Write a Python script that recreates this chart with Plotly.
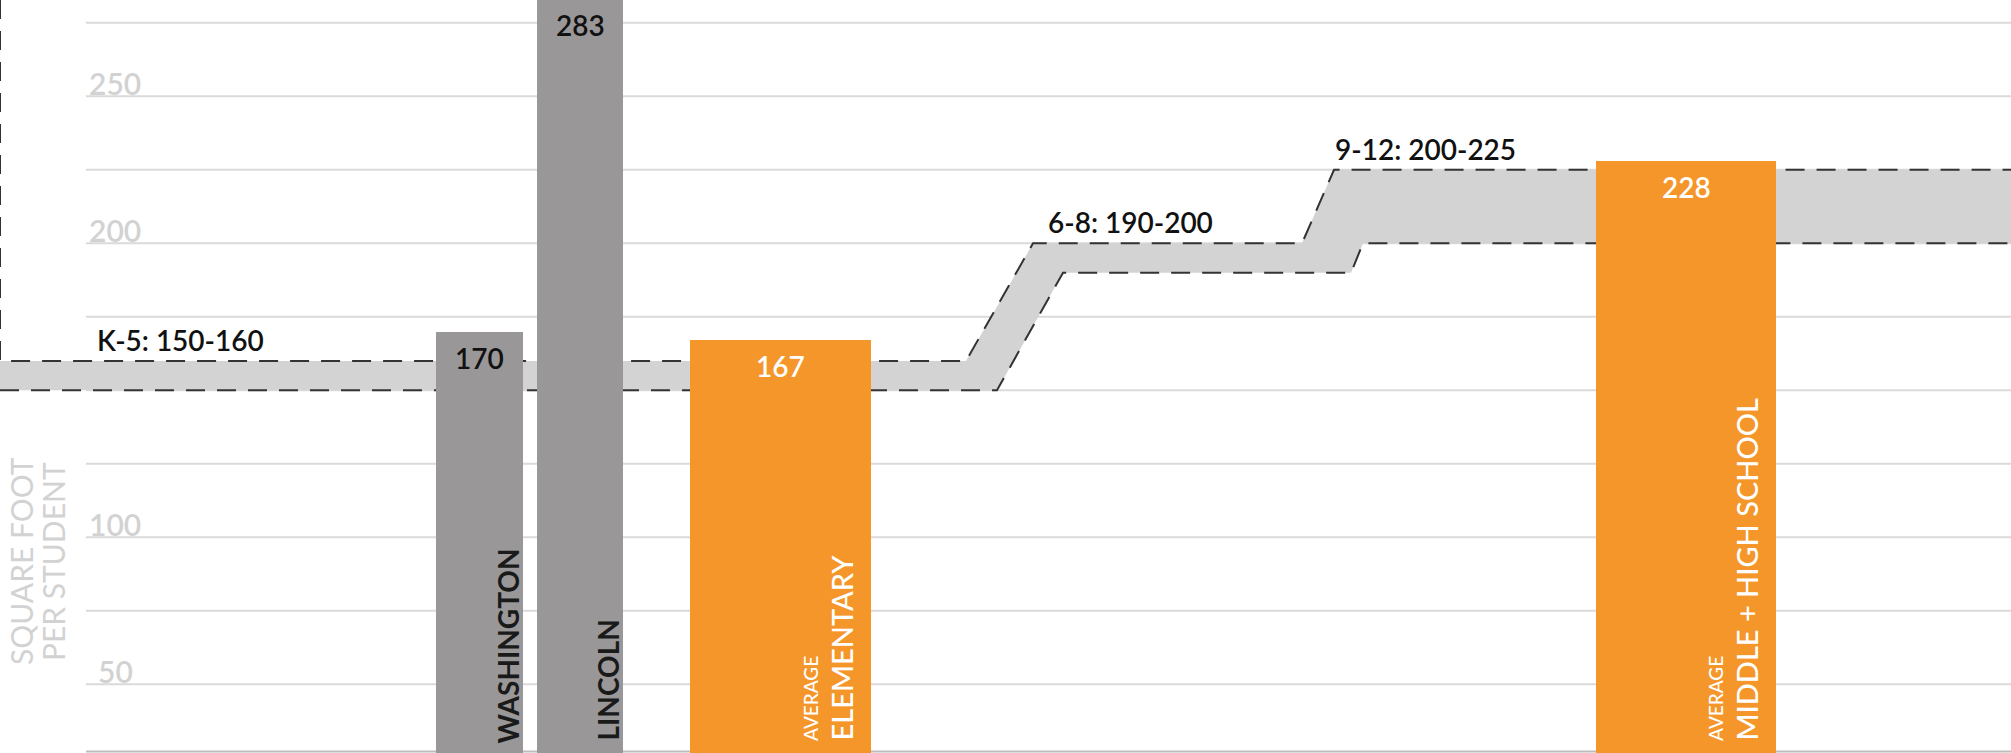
import plotly.graph_objects as go

# ---------------- data ----------------
schools = ["WASHINGTON", "LINCOLN", "ELEMENTARY", "MIDDLE + HIGH SCHOOL"]
prefixes = ["", "", "AVERAGE", "AVERAGE"]
sqft_per_student = [170, 283, 167, 228]
bar_kind = ["school", "school", "average", "average"]

band_names = ["K-5", "6-8", "9-12"]
band_low = [150, 190, 200]
band_high = [160, 200, 225]

grid_values = [25, 50, 75, 100, 125, 150, 175, 200, 225, 250, 275]
tick_labels = [50, 100, 200, 250]
axis_title = ["SQUARE FOOT", "PER STUDENT"]

# ---------------- layout constants ----------------
W, H = 2011, 753
Y_RANGE = [26.64, 282.76]
bar_center = [479.5, 580, 780.5, 1686]
bar_width = [87, 86, 181, 180]
# horizontal extents of each band segment (upper edge / lower edge)
upper_x = [(0, 966), (1033, 1302), (1334, W)]
lower_x = [(0, 997), (1063, 1351), (1363, W)]
band_label_x = [95, 1046, 1333]
grid_x0 = 86

GRAY_BAR = "#999798"
ORANGE = "#F5962B"
BAND_FILL = "#d3d3d3"
DASH_COLOR = "#333333"
DASH = "19px,12px"
LIGHT_TEXT = "#d2d2d2"
FONT = "Lato"


def to_paper(v):
    return (v - Y_RANGE[0]) / (Y_RANGE[1] - Y_RANGE[0])


fig = go.Figure()

# ---- band (fill) on the base subplot ----
ux, uy, lx, ly = [], [], [], []
for (a, b), v in zip(upper_x, band_high):
    ux += [a, b]; uy += [v, v]
for (a, b), v in zip(lower_x, band_low):
    lx += [a, b]; ly += [v, v]
fig.add_trace(go.Scatter(x=ux + lx[::-1], y=uy + ly[::-1], fill="toself",
                         fillcolor=BAND_FILL, line=dict(width=0), mode="lines",
                         hoverinfo="skip", showlegend=False))
# dashed edges (upper edge continues up the left side)
fig.add_trace(go.Scatter(x=[0] + ux, y=[Y_RANGE[1]] + uy, mode="lines",
                         line=dict(color=DASH_COLOR, width=2, dash=DASH),
                         hoverinfo="skip", showlegend=False))
fig.add_trace(go.Scatter(x=lx, y=ly, mode="lines",
                         line=dict(color=DASH_COLOR, width=2, dash=DASH),
                         hoverinfo="skip", showlegend=False))

# ---- bars on an overlaid subplot so they sit above the band ----
colors = [GRAY_BAR if k == "school" else ORANGE for k in bar_kind]
fig.add_trace(go.Bar(x=bar_center, y=sqft_per_student, width=bar_width,
                     marker=dict(color=colors, line=dict(width=0)),
                     xaxis="x2", yaxis="y2",
                     hoverinfo="skip", showlegend=False))

annotations = []
shapes = []

# gridlines
for g in grid_values:
    shapes.append(dict(type="line", xref="x", yref="y", x0=grid_x0, x1=W, y0=g, y1=g,
                       line=dict(color="#dadada", width=2), layer="below"))
# bottom baseline
shapes.append(dict(type="line", xref="x", yref="paper", x0=grid_x0, x1=W, y0=0.002, y1=0.002,
                   line=dict(color="#bdbdbd", width=2), layer="below"))

# tick labels
for t in tick_labels:
    annotations.append(dict(x=115, y=t, xref="x", yref="y", text=str(t), showarrow=False,
                            xanchor="center", yanchor="bottom", yshift=-7,
                            font=dict(family=FONT, size=30, color=LIGHT_TEXT, weight=600)))

# axis title
for i, line in enumerate(axis_title):
    annotations.append(dict(x=[41, 73][i] / W, y=1 - 561 / H, xref="paper", yref="paper",
                            text=line, textangle=-90, showarrow=False,
                            xanchor="right", yanchor="middle",
                            font=dict(family=FONT, size=30, color=LIGHT_TEXT)))

# value labels
for c, v, k in zip(bar_center, sqft_per_student, bar_kind):
    annotations.append(dict(x=c, y=to_paper(v), xref="x", yref="paper", text=str(v),
                            showarrow=False, xanchor="center", yanchor="top", yshift=-7,
                            font=dict(family=FONT, size=28, weight=600,
                                      color="#111111" if k == "school" else "#ffffff")))

# vertical bar names
for c, w, name, pre, k in zip(bar_center, bar_width, schools, prefixes, bar_kind):
    right = c + w / 2
    if k == "school":
        annotations.append(dict(x=right, y=0, xref="x", yref="paper", text=name, textangle=-90,
                                showarrow=False, xanchor="right", yanchor="bottom",
                                xshift=3, yshift=7 if name == "WASHINGTON" else 10,
                                font=dict(family=FONT, size=28, weight=700, color="#1a1a1a")))
    else:
        annotations.append(dict(x=right, y=0, xref="x", yref="paper", text=name, textangle=-90,
                                showarrow=False, xanchor="right", yanchor="bottom",
                                xshift=-11, yshift=10,
                                font=dict(family=FONT, size=29, weight=500, color="#ffffff")))
        annotations.append(dict(x=right, y=0, xref="x", yref="paper", text=pre, textangle=-90,
                                showarrow=False, xanchor="right", yanchor="bottom",
                                xshift=-47, yshift=10,
                                font=dict(family=FONT, size=19, weight=500, color="#ffffff")))

# band labels
for name, lo, hi, bx in zip(band_names, band_low, band_high, band_label_x):
    annotations.append(dict(x=bx, y=hi, xref="x", yref="y", text=f"{name}: {lo}-{hi}",
                            showarrow=False, xanchor="left", yanchor="bottom", yshift=2,
                            font=dict(family=FONT, size=28, weight=600, color="#111111")))

axis_common = dict(visible=False, fixedrange=True, showgrid=False, zeroline=False)
fig.update_layout(
    width=W, height=H,
    margin=dict(l=0, r=0, t=0, b=0),
    paper_bgcolor="white", plot_bgcolor="rgba(0,0,0,0)",
    xaxis=dict(range=[0, W], **axis_common),
    yaxis=dict(range=Y_RANGE, **axis_common),
    xaxis2=dict(range=[0, W], overlaying="x", **axis_common),
    yaxis2=dict(range=Y_RANGE, overlaying="y", **axis_common),
    bargap=0,
    annotations=annotations, shapes=shapes,
)

fig.write_html("out.html")
